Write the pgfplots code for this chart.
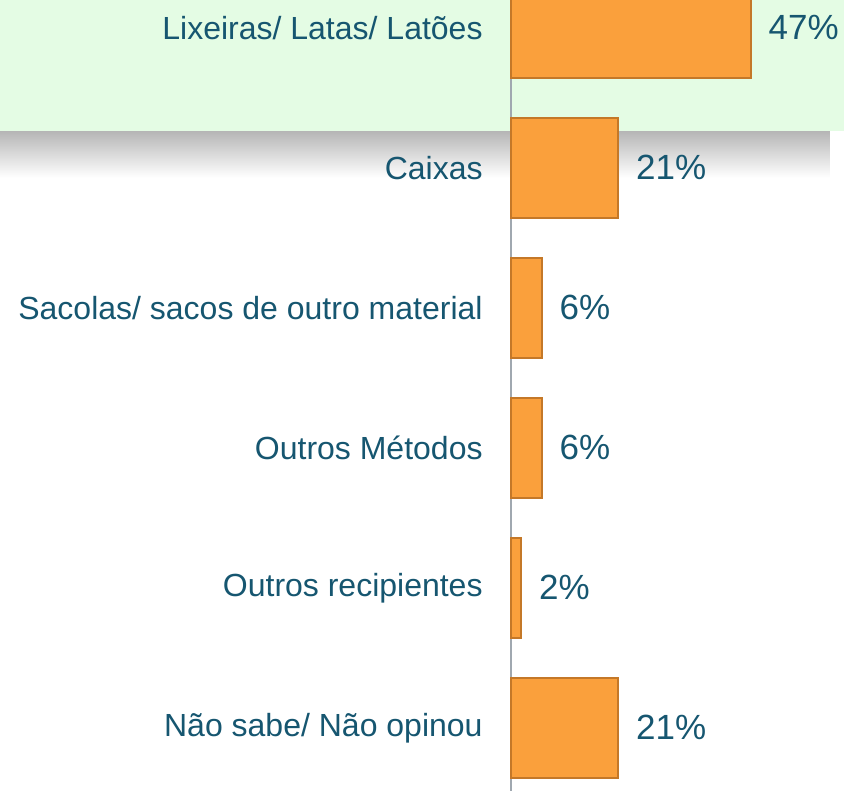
\documentclass[border=0pt]{standalone}
\usepackage{pgfplots}
\pgfplotsset{compat=1.18}
\usepackage{fontspec}
\setmainfont{Liberation Sans}
\definecolor{txt}{RGB}{22,86,112}
\definecolor{barfill}{RGB}{250,160,60}
\definecolor{baredge}{RGB}{196,120,40}
\definecolor{band}{RGB}{228,252,228}
\definecolor{axisgray}{RGB}{160,168,176}
\begin{document}
\begin{tikzpicture}
\begin{axis}[
  set layers,
  scale only axis,
  width=422pt, height=395pt,
  xmin=-100.2, xmax=65.3,
  ymin=-0.45, ymax=5.193,
  axis x line=none,
  axis y line=middle,
  axis line style={-, draw=axisgray, line width=0.8pt},
  xbar,
  bar width=50pt,
  ytick={0,1,2,3,4,5},
  yticklabels={Não sabe/ Não opinou, Outros recipientes, Outros Métodos, Sacolas/ sacos de outro material, Caixas, Lixeiras/ Latas/ Latões},
  major tick length=0pt,
  yticklabel style={anchor=east, inner sep=0pt, xshift=-14pt, text=txt, font=\fontsize{16}{19}\selectfont},
  /pgf/number format/assume math mode=true,
  nodes near coords={\pgfmathprintnumber{\pgfplotspointmeta}\%},
  point meta=x,
  nodes near coords style={anchor=west, inner sep=0pt, xshift=8.5pt, text=txt, font=\fontsize{17.5}{21}\selectfont},
]
\begin{pgfonlayer}{axis background}
\shade[top color=black!29, middle color=black!24, bottom color=white] (axis cs:-100.2,3.93) rectangle (axis cs:62.5,4.264);
\fill[band] (axis cs:-100.2,4.264) rectangle (axis cs:65.3,5.3);
\end{pgfonlayer}
\addplot[fill=barfill, draw=baredge, line width=1pt] coordinates {
(21,0) (2,1) (6,2) (6,3) (21,4) (47,5)
};
\end{axis}
\end{tikzpicture}
\end{document}
